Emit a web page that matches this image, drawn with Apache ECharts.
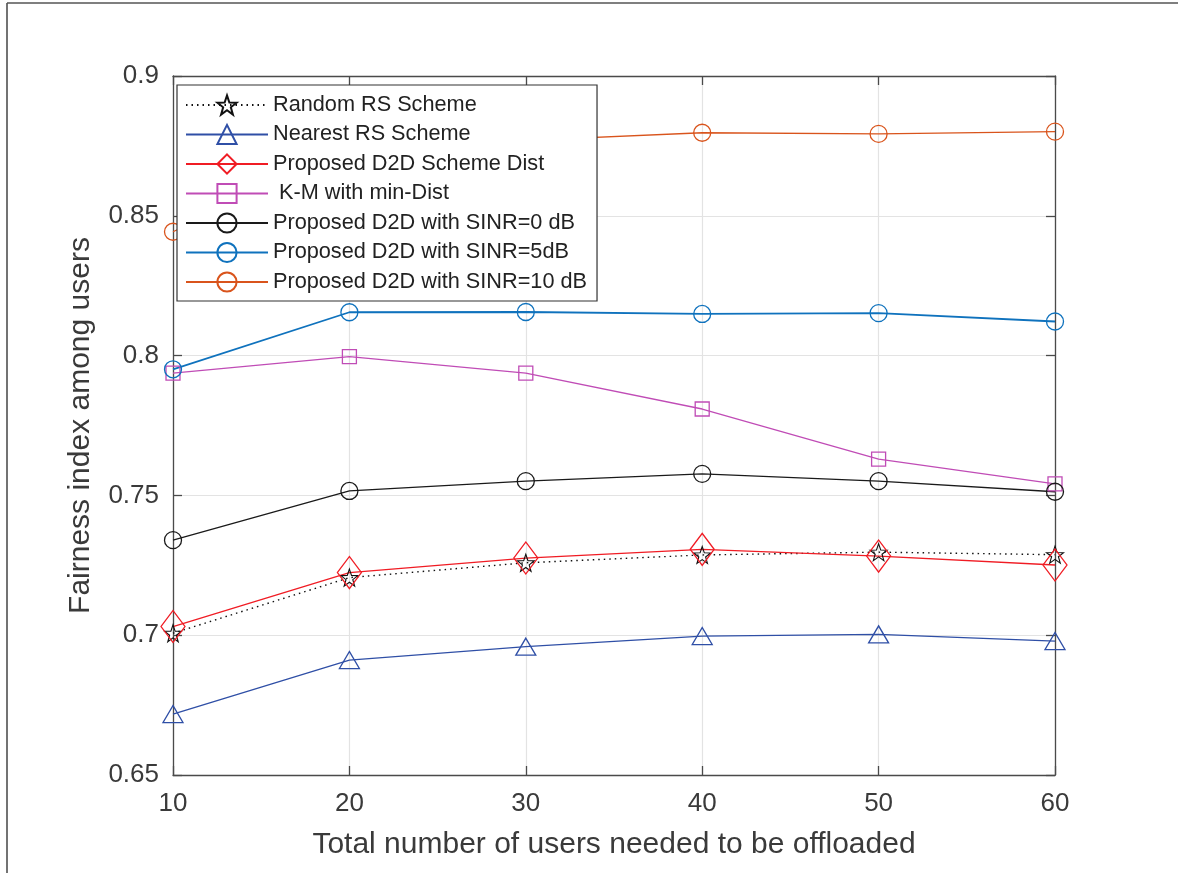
<!DOCTYPE html>
<html>
<head>
<meta charset="utf-8">
<script src="https://cdn.jsdelivr.net/npm/echarts@6/dist/echarts.min.js"></script>
<style>
  html, body { margin: 0; padding: 0; background: #fff; }
  #chart { width: 1178px; height: 873px; }
</style>
</head>
<body>
<div id="chart"></div>
<script>
// ---- data ----
const xValues = [10, 20, 30, 40, 50, 60];
const randomRS   = [0.7007, 0.7206, 0.7259, 0.7287, 0.7297, 0.7288];
const nearestRS  = [0.6718, 0.6911, 0.6959, 0.6997, 0.7003, 0.6979];
const d2dDist    = [0.7031, 0.7224, 0.7276, 0.7307, 0.7283, 0.7251];
const kmMinDist  = [0.7937, 0.7996, 0.7937, 0.7809, 0.7630, 0.7541];
const sinr0      = [0.7340, 0.7516, 0.7551, 0.7577, 0.7551, 0.7513];
const sinr5      = [0.7951, 0.8155, 0.8156, 0.8149, 0.8152, 0.8122];
const sinr10     = [0.8443, 0.8740, 0.8770, 0.8797, 0.8793, 0.8801];
const seriesNames = [
  'Random RS Scheme',
  'Nearest RS Scheme',
  'Proposed D2D Scheme Dist',
  ' K-M with min-Dist',
  'Proposed D2D with SINR=0 dB',
  'Proposed D2D with SINR=5dB',
  'Proposed D2D with SINR=10 dB'
];
const xTitle = 'Total number of users needed to be offloaded';
const yTitle = 'Fairness index among users';

const pairs = arr => xValues.map((x, i) => [x, arr[i]]);
const starPath = 'path://M0,-10 L2.35,-3.24 L9.51,-3.09 L3.8,1.24 L5.88,8.09 L0,4 L-5.88,8.09 L-3.8,1.24 L-9.51,-3.09 L-2.35,-3.24 Z';

function mk(name, data, color, symbol, size, lineType, lw, bw) {
  return {
    name: name,
    type: 'line',
    data: pairs(data),
    symbol: symbol,
    symbolSize: size,
    showAllSymbol: true,
    lineStyle: { color: color, width: lw || 1.3, type: lineType || 'solid' },
    itemStyle: { color: 'rgba(0,0,0,0)', borderColor: color, borderWidth: bw || 1.3 },
    emphasis: { disabled: true },
    animation: false
  };
}

const chart = echarts.init(document.getElementById('chart'), null, { renderer: 'canvas' });
const axisColor = '#4a4a4a';
const textColor = '#3a3a3a';
const font = "'Liberation Sans', Arial, Helvetica, sans-serif";

chart.setOption({
  backgroundColor: '#fff',
  animation: false,
  textStyle: { fontFamily: font },
  grid: { left: 173, right: 123, top: 76, bottom: 98 },
  graphic: [
    { type: 'line', shape: { x1: 7, y1: 3, x2: 7, y2: 873 }, style: { stroke: '#444', lineWidth: 1.5 } },
    { type: 'line', shape: { x1: 7, y1: 3, x2: 1178, y2: 3 }, style: { stroke: '#555', lineWidth: 1.5 } }
  ],
  xAxis: [{
    type: 'value', min: 10, max: 60, interval: 10,
    name: xTitle, nameLocation: 'middle', nameGap: 55,
    nameTextStyle: { fontSize: 30, color: textColor, fontFamily: font },
    axisLine: { show: true, onZero: false, lineStyle: { color: axisColor, width: 1.3 } },
    axisTick: { show: true, inside: true, length: 9, lineStyle: { color: axisColor, width: 1.3 } },
    axisLabel: { fontSize: 26, color: textColor, margin: 16, fontFamily: font },
    splitLine: { show: true, lineStyle: { color: '#e3e3e3', width: 1.2 } }
  }, {
    type: 'value', min: 10, max: 60, interval: 10, position: 'top',
    axisLine: { show: true, onZero: false, lineStyle: { color: axisColor, width: 1.3 } },
    axisTick: { show: true, inside: true, length: 9, lineStyle: { color: axisColor, width: 1.3 } },
    axisLabel: { show: false }, splitLine: { show: false }
  }],
  yAxis: [{
    type: 'value', min: 0.65, max: 0.9, interval: 0.05,
    name: yTitle, nameLocation: 'middle', nameGap: 77, nameRotate: 90,
    nameTextStyle: { fontSize: 30, color: textColor, fontFamily: font },
    axisLine: { show: true, onZero: false, lineStyle: { color: axisColor, width: 1.3 } },
    axisTick: { show: true, inside: true, length: 9, lineStyle: { color: axisColor, width: 1.3 } },
    axisLabel: { fontSize: 26, color: textColor, margin: 14, fontFamily: font, padding: [6, 0, 0, 0] },
    splitLine: { show: true, lineStyle: { color: '#e3e3e3', width: 1.2 } }
  }, {
    type: 'value', min: 0.65, max: 0.9, interval: 0.05, position: 'right',
    axisLine: { show: true, onZero: false, lineStyle: { color: axisColor, width: 1.3 } },
    axisTick: { show: true, inside: true, length: 9, lineStyle: { color: axisColor, width: 1.3 } },
    axisLabel: { show: false }, splitLine: { show: false }
  }],
  legend: {
    orient: 'vertical',
    left: 177, top: 85,
    padding: [9, 10, 8, 8],
    itemWidth: 82, itemHeight: 24, itemGap: 7.5,
    backgroundColor: '#fff',
    borderColor: '#333', borderWidth: 1.2, borderRadius: 0,
    textStyle: { fontSize: 21.7, color: '#222', fontFamily: font },
    selectedMode: false,
    data: seriesNames
  },
  series: [
    mk(seriesNames[0], randomRS, '#111111', starPath, 17, [1.5, 4], 1.4, 1.1),
    mk(seriesNames[1], nearestRS, '#2f4fa6', 'triangle', [20, 17]),
    mk(seriesNames[2], d2dDist, '#f01c24', 'diamond', [24, 32]),
    mk(seriesNames[3], kmMinDist, '#c04cb6', 'rect', 14),
    mk(seriesNames[4], sinr0, '#1a1a1a', 'circle', 17),
    mk(seriesNames[5], sinr5, '#0f72bd', 'circle', 17, 'solid', 1.8),
    mk(seriesNames[6], sinr10, '#d9541c', 'circle', 17)
  ]
});
</script>
</body>
</html>
